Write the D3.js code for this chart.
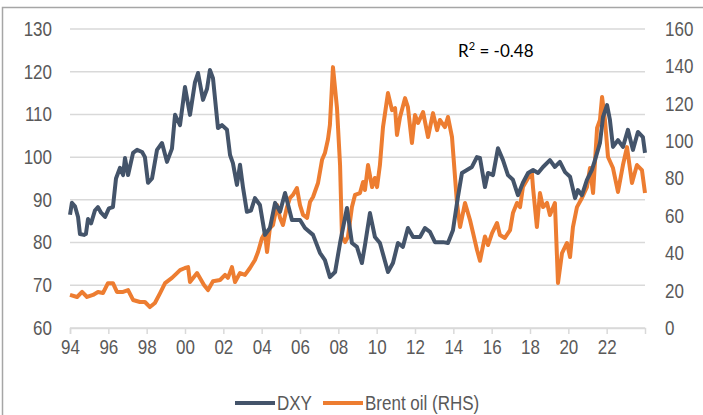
<!DOCTYPE html>
<html>
<head>
<meta charset="utf-8">
<script src="https://cdn.jsdelivr.net/npm/d3@7"></script>
<style>
  body { margin: 0; background: #fff; }
  svg { display: block; }
  .tick-label { font-family: "Liberation Sans", Arial, sans-serif; fill: #595959; }
</style>
</head>
<body>
<div id="chart"></div>
<script>
// DXY index (LHS)
var dxyYears = [1994.00, 1994.10, 1994.26, 1994.42, 1994.52, 1994.73, 1994.83, 1994.94, 1995.10, 1995.30,
  1995.46, 1995.62, 1995.83, 1996.03, 1996.24, 1996.40, 1996.61, 1996.77, 1996.87, 1997.03,
  1997.29, 1997.50, 1997.76, 1997.91, 1998.07, 1998.28, 1998.54, 1998.80, 1999.06, 1999.32,
  1999.48, 1999.74, 2000.00, 2000.26, 2000.52, 2000.68, 2000.94, 2001.15, 2001.30, 2001.46,
  2001.72, 2001.93, 2002.19, 2002.35, 2002.50, 2002.71, 2002.87, 2003.03, 2003.23, 2003.44,
  2003.65, 2003.91, 2004.17, 2004.43, 2004.59, 2004.70, 2004.96, 2005.22, 2005.58, 2006.00,
  2006.26, 2006.68, 2007.04, 2007.30, 2007.56, 2007.83, 2008.09, 2008.45, 2008.71, 2008.97,
  2009.23, 2009.39, 2009.65, 2009.91, 2010.17, 2010.59, 2010.85, 2011.11, 2011.37, 2011.63,
  2011.90, 2012.26, 2012.52, 2012.78, 2013.04, 2013.46, 2013.72, 2013.98, 2014.24, 2014.45,
  2014.71, 2014.97, 2015.23, 2015.39, 2015.65, 2015.81, 2016.07, 2016.33, 2016.59, 2016.85,
  2017.11, 2017.37, 2017.63, 2017.90, 2018.16, 2018.42, 2018.68, 2019.04, 2019.30, 2019.56,
  2019.83, 2020.09, 2020.35, 2020.50, 2020.71, 2020.97, 2021.23, 2021.39, 2021.65, 2021.81,
  2022.02, 2022.17, 2022.33, 2022.59, 2022.85, 2023.11, 2023.37, 2023.63, 2023.89, 2024.00];
var dxyValues = [86.5, 89.3, 88.5, 86, 82, 81.8, 82, 85.5, 84.5, 87.5,
  88.3, 87, 86, 88, 88.3, 95, 97.5, 95.8, 99.8, 95.8,
  101, 101.7, 101.2, 100, 94, 95, 101.7, 103.3, 98.9, 102,
  109.9, 107.5, 116.4, 109.9, 117.5, 119.7, 113.4, 116, 120.4, 118.5,
  106.8, 107.5, 106.4, 100.5, 98.6, 93.5, 98.2, 92.8, 87.2, 87.5,
  90.4, 88.8, 81.8, 83.4, 86.9, 89.3, 87.2, 91.6, 85.3, 85.3,
  83.4, 81.8, 77.6, 75.9, 71.9, 73.1, 79.9, 88.1, 79.9, 79,
  75.2, 79.4, 86.9, 81.3, 79.9, 73.1, 75.2, 79.9, 79, 83.4,
  81.3, 81.3, 83.4, 82.5, 80.1, 80.1, 79.9, 82.9, 90.7, 96.3,
  97, 97.7, 100, 99.8, 93, 96.3, 95.8, 102.1, 99.3, 95.8,
  94.7, 91.1, 94, 96.3, 97, 96.3, 97.7, 99.3, 97.7, 98.9,
  96.5, 95.4, 90.4, 92.3, 91.1, 94.7, 97, 99.3, 103.3, 109.4,
  112.2, 108.7, 102.4, 104, 102.4, 106.4, 101.7, 105.9, 104.7, 101];

// Brent oil, USD/bbl (RHS)
var brentYears = [1994.00, 1994.37, 1994.63, 1994.89, 1995.20, 1995.46, 1995.72, 1995.98, 1996.24, 1996.45,
  1996.77, 1997.03, 1997.29, 1997.65, 1997.91, 1998.17, 1998.43, 1998.70, 1998.96, 1999.32,
  1999.58, 1999.74, 2000.00, 2000.16, 2000.26, 2000.63, 2000.78, 2000.99, 2001.20, 2001.46,
  2001.83, 2002.09, 2002.24, 2002.45, 2002.61, 2002.87, 2003.13, 2003.39, 2003.65, 2003.81,
  2004.02, 2004.17, 2004.28, 2004.43, 2004.59, 2004.80, 2004.96, 2005.11, 2005.32, 2005.48,
  2005.63, 2005.84, 2006.00, 2006.16, 2006.37, 2006.52, 2006.68, 2006.94, 2007.15, 2007.30,
  2007.46, 2007.56, 2007.72, 2007.93, 2008.09, 2008.19, 2008.35, 2008.50, 2008.71, 2008.87,
  2009.13, 2009.29, 2009.39, 2009.55, 2009.76, 2009.91, 2010.02, 2010.17, 2010.33, 2010.59,
  2010.80, 2010.96, 2011.06, 2011.22, 2011.48, 2011.63, 2011.84, 2012.00, 2012.16, 2012.42,
  2012.68, 2012.94, 2013.15, 2013.30, 2013.56, 2013.72, 2013.93, 2014.19, 2014.35, 2014.61,
  2014.87, 2015.03, 2015.23, 2015.39, 2015.65, 2015.81, 2016.02, 2016.28, 2016.43, 2016.69,
  2016.96, 2017.11, 2017.32, 2017.48, 2017.63, 2017.90, 2018.10, 2018.16, 2018.36, 2018.52,
  2018.68, 2018.89, 2019.04, 2019.30, 2019.46, 2019.67, 2019.93, 2020.09, 2020.24, 2020.45,
  2020.71, 2020.97, 2021.13, 2021.29, 2021.50, 2021.65, 2021.76, 2021.91, 2022.07, 2022.33,
  2022.59, 2022.85, 2023.06, 2023.32, 2023.58, 2023.84, 2024.00];
var brentValues = [17.7, 16.6, 19.3, 16.6, 17.7, 19.3, 18.7, 24, 24, 19.3,
  19.3, 20.3, 15, 13.9, 13.9, 11.2, 13.4, 18.7, 24, 26.8,
  29.4, 31, 32.1, 32.6, 24.6, 29.4, 26.8, 23, 20.3, 25,
  25.7, 28.4, 26.8, 32.6, 24.6, 29.4, 28.4, 32.1, 36.4, 40.7,
  48.2, 50.8, 40.7, 53.5, 55.1, 65.8, 58.9, 55.1, 64.7, 69.6,
  71.2, 74.9, 65.8, 60.5, 58.9, 67.4, 70.1, 77.6, 90, 93.6,
  101, 108.6, 139.6, 117.7, 87.2, 48.7, 46, 48.7, 64.7, 71.2,
  72.2, 78.1, 73.8, 87.2, 75.4, 80.3, 75.4, 87.2, 107.5, 125.7,
  116.6, 117.7, 103.3, 112.9, 123, 118.2, 99, 114, 109.7, 115.6,
  102.2, 115, 105.9, 111.3, 107.5, 112.9, 102.2, 66.9, 54, 66.9,
  57.8, 50.8, 42, 36, 49, 44.4, 50.8, 56.2, 49.8, 48.2,
  52.4, 61.5, 66.9, 64.7, 75.4, 80.3, 82.9, 74.9, 54, 72.2,
  64.7, 66.9, 60.5, 66.9, 24.1, 40.1, 45.5, 38, 54, 64.7,
  69.6, 75.4, 85.6, 72.2, 107, 111.3, 123.6, 111.3, 91.5, 85.6,
  72.8, 87.2, 96.8, 77.6, 87.2, 84.5, 72.2];

var xTickYears = d3.range(1994, 2023, 2);
var leftTicks = d3.range(60, 131, 10);
var rightTicks = d3.range(0, 161, 20);
var rSquaredLabel = "-0.48";

var dxy = dxyYears.map(function(y, i) { return {year: y, value: dxyValues[i]}; });
var brent = brentYears.map(function(y, i) { return {year: y, value: brentValues[i]}; });

var W = 703, H = 415;
var narrow = "scale(0.85,1)"; // no Arial Narrow here, so squeeze Liberation Sans
var svg = d3.select("#chart").append("svg")
  .attr("width", W)
  .attr("height", H);

// outer frame
svg.append("rect")
  .attr("x", 2.5).attr("y", 7.5)
  .attr("width", 720).attr("height", 430)
  .attr("fill", "none")
  .attr("stroke", "#a6a6a6")
  .attr("stroke-width", 1.5);

var xScale = d3.scaleLinear().domain([1994, 2024]).range([70, 645]);
var yLeft = d3.scaleLinear().domain([60, 130]).range([328, 29]);
var yRight = d3.scaleLinear().domain([0, 160]).range([328, 29]);

// gridlines
svg.append("g")
  .selectAll("line")
  .data(leftTicks)
  .join("line")
  .attr("x1", 70).attr("x2", 645)
  .attr("y1", function(d) { return yLeft(d); })
  .attr("y2", function(d) { return yLeft(d); })
  .attr("stroke", "#d9d9d9")
  .attr("stroke-width", 1.5);

// x axis
var xAxis = svg.append("g")
  .attr("transform", "translate(0," + yLeft(60) + ")")
  .call(d3.axisBottom(xScale)
    .tickValues(xTickYears)
    .tickSize(6)
    .tickPadding(6)
    .tickFormat(function(d) { return String(d % 100).padStart(2, "0"); }));
xAxis.select(".domain").attr("stroke", "#d9d9d9").attr("stroke-width", 1.5);
xAxis.selectAll(".tick line").attr("stroke", "#d9d9d9").attr("stroke-width", 1.5);
xAxis.selectAll(".tick text")
  .attr("class", "tick-label")
  .attr("transform", narrow)
  .style("font-size", "20px");

// left axis
var yAxisL = svg.append("g")
  .attr("transform", "translate(52,0)")
  .call(d3.axisLeft(yLeft).tickValues(leftTicks).tickSize(0).tickPadding(0));
yAxisL.select(".domain").remove();
yAxisL.selectAll(".tick text").attr("class", "tick-label")
  .attr("transform", narrow).style("font-size", "20px");

// right axis
var yAxisR = svg.append("g")
  .attr("transform", "translate(665,0)")
  .call(d3.axisRight(yRight).tickValues(rightTicks).tickSize(0).tickPadding(0));
yAxisR.select(".domain").remove();
yAxisR.selectAll(".tick text").attr("class", "tick-label")
  .attr("transform", narrow).style("font-size", "20px");

// lines
var lineL = d3.line()
  .x(function(d) { return xScale(d.year); })
  .y(function(d) { return yLeft(d.value); });
var lineR = d3.line()
  .x(function(d) { return xScale(d.year); })
  .y(function(d) { return yRight(d.value); });

svg.append("path")
  .datum(brent)
  .attr("d", lineR)
  .attr("fill", "none")
  .attr("stroke", "#ed7d31")
  .attr("stroke-width", 4)
  .attr("stroke-linejoin", "round");

svg.append("path")
  .datum(dxy)
  .attr("d", lineL)
  .attr("fill", "none")
  .attr("stroke", "#44546a")
  .attr("stroke-width", 4)
  .attr("stroke-linejoin", "round");

// R squared note
var note = svg.append("text")
  .attr("x", 458).attr("y", 57)
  .style("font-family", "Lato, 'Open Sans', sans-serif")
  .style("font-size", "17px")
  .attr("fill", "#000");
note.append("tspan").text("R");
note.append("tspan").attr("dy", -7).style("font-size", "11px").text("2");
note.append("tspan").attr("dy", 7).text(" = " + rSquaredLabel);

// legend
var legendItems = [
  {label: "DXY", color: "#44546a", x: 235},
  {label: "Brent oil (RHS)", color: "#ed7d31", x: 323}
];
var lg = svg.append("g").selectAll("g")
  .data(legendItems)
  .join("g")
  .attr("transform", function(d) { return "translate(" + d.x + ",403)"; });
lg.append("line")
  .attr("x1", 0).attr("x2", 40)
  .attr("stroke", function(d) { return d.color; })
  .attr("stroke-width", 4);
lg.append("text")
  .attr("class", "tick-label")
  .attr("transform", "translate(42,7) " + narrow)
  .style("font-size", "20px")
  .text(function(d) { return d.label; });
</script>
</body>
</html>
